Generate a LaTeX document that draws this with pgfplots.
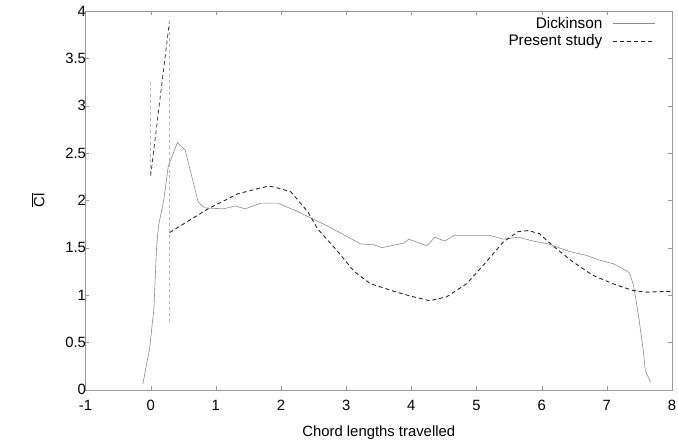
\documentclass[border=0pt]{standalone}
\usepackage{fontspec}
\setmainfont{Liberation Sans}
\usepackage{pgfplots}
\usepackage{pgfplotstable}
\pgfplotsset{compat=1.18}

\pgfplotstableread{
x      y
-0.12  0.06
-0.015 0.44
0.05   0.86
0.09   1.49
0.12   1.73
0.20   2.00
0.27   2.36
0.41   2.61
0.53   2.53
0.73   1.98
0.83   1.92
1.11   1.91
1.30   1.94
1.45   1.91
1.69   1.97
1.95   1.97
2.26   1.88
2.71   1.73
3.22   1.54
3.43   1.53
3.55   1.50
3.89   1.55
3.96   1.59
4.24   1.52
4.36   1.61
4.51   1.57
4.66   1.63
5.20   1.63
5.41   1.59
5.64   1.61
5.87   1.57
6.10   1.54
6.42   1.46
6.68   1.42
6.88   1.37
7.10   1.33
7.24   1.28
7.35   1.23
7.41   1.10
7.49   0.76
7.56   0.41
7.59   0.20
7.67   0.08
}\dickinson

\pgfplotstableread{
x      y
0.29   1.66
0.88   1.91
1.34   2.07
1.80   2.15
1.90   2.14
2.15   2.09
2.41   1.88
2.56   1.70
2.87   1.46
3.12   1.25
3.37   1.12
3.73   1.04
3.98   0.99
4.28   0.94
4.54   0.98
4.85   1.12
5.15   1.35
5.41   1.56
5.64   1.67
5.79   1.68
5.96   1.65
6.17   1.52
6.48   1.35
6.78   1.21
7.09   1.12
7.39   1.05
7.59   1.03
8.00   1.04
}\present

\begin{document}
\begin{tikzpicture}
\begin{axis}[
    width=590bp, height=381bp, scale only axis,
    xmin=-1, xmax=8, ymin=0, ymax=4,
    xtick={-1,0,1,2,3,4,5,6,7,8},
    ytick={0,0.5,1,1.5,2,2.5,3,3.5,4},
    tick align=inside,
    major tick length=4bp,
    axis line style={gray!80},
    tick style={gray!80},
    /pgf/number format/assume math mode=true,
    every tick label/.append style={font=\fontsize{15}{17}\selectfont},
    xticklabel style={yshift=-7bp},
    yticklabel style={xshift=4bp},
    xlabel={Chord lengths travelled},
    ylabel={$\overline{\mbox{Cl}}$},
    xlabel style={yshift=-8bp},
    ylabel shift=14bp,
    label style={font=\fontsize{15}{17}\selectfont},
    legend cell align=right,
    legend plot pos=right,
    legend style={draw=none, fill=none, at={(1,1)}, anchor=north east,
        xshift=-14bp, yshift=-2bp, row sep=1bp,
        font=\fontsize{15.5}{17}\selectfont},
    legend image code/.code={\path (0bp,0bp); \draw[#1] (8bp,0bp) -- (50bp,0bp);},
]
\coordinate (sw) at (rel axis cs:0,0);
\coordinate (ne) at (rel axis cs:1,1);
\addplot[gray!90, line width=0.6bp] table[x=x, y=y] {\dickinson};
\addlegendentry{Dickinson}
\addplot[black!85, line width=0.9bp, dash pattern=on 4bp off 3bp] table[x=x, y=y] {\present};
\addlegendentry{Present study}
% start-up transient of the present study
\addplot[forget plot, gray!55, line width=0.6bp, dash pattern=on 3bp off 3bp]
    coordinates {(0,3.25) (0,2.26)};
\addplot[forget plot, black!75, line width=0.8bp, dash pattern=on 4bp off 3bp]
    coordinates {(0,2.26) (0.29,3.90)};
\addplot[forget plot, gray!55, line width=0.6bp, dash pattern=on 3bp off 3bp]
    coordinates {(0.29,3.90) (0.29,0.70)};
\end{axis}
\pgfresetboundingbox
\path[use as bounding box] ([shift={(-86bp,-54bp)}]sw) rectangle ([shift={(6bp,11bp)}]ne);
\end{tikzpicture}
\end{document}
